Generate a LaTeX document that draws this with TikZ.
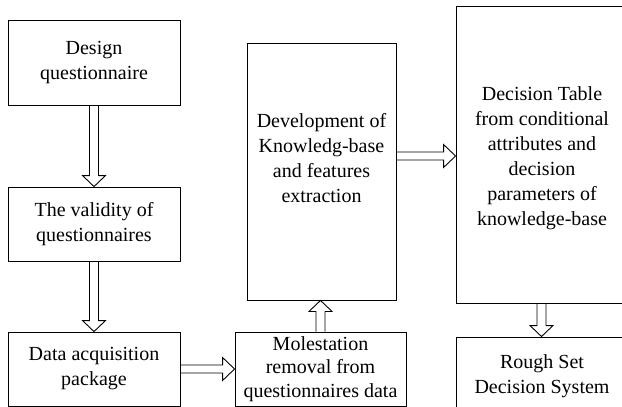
\documentclass[tikz,border=0pt]{standalone}
\usepackage{fontspec}
\setmainfont{Liberation Serif}
\usetikzlibrary{calc}
\tikzset{
  boxnode/.style={draw, line width=0.9pt, inner sep=0pt, anchor=center, align=center,
    font=\fontsize{20}{25}\selectfont},
  txtnode/.style={inner sep=0pt, anchor=center, align=center,
    font=\fontsize{20}{25}\selectfont},
  harrow/.style={draw, line width=0.9pt, line join=miter}
}
\newcommand{\hollowdown}[2]{\draw[harrow] ($(#1)+(-4.5,0)$) -- ($(#2)+(-4.5,-11)$) -- ($(#2)+(-11.5,-11)$) -- (#2) -- ($(#2)+(11.5,-11)$) -- ($(#2)+(4.5,-11)$) -- ($(#1)+(4.5,0)$);}
\newcommand{\hollowup}[2]{\draw[harrow] ($(#1)+(-4.5,0)$) -- ($(#2)+(-4.5,11)$) -- ($(#2)+(-11.5,11)$) -- (#2) -- ($(#2)+(11.5,11)$) -- ($(#2)+(4.5,11)$) -- ($(#1)+(4.5,0)$);}
\newcommand{\hollowright}[2]{\draw[harrow] ($(#1)+(0,-4)$) -- ($(#2)+(-12,-4)$) -- ($(#2)+(-12,-11.5)$) -- (#2) -- ($(#2)+(-12,11.5)$) -- ($(#2)+(-12,4)$) -- ($(#1)+(0,4)$);}
\begin{document}
\begin{tikzpicture}[x=1pt,y=-1pt]
\useasboundingbox (0,0) rectangle (622,407);
\clip (0,0) rectangle (622,407);
% boxes
\node[boxnode, minimum width=172pt, minimum height=85pt] (design) at (94,62.5) {Design\\questionnaire};
\node[boxnode, minimum width=172pt, minimum height=74pt] (valid) at (94,224) {The validity of\\questionnaires};
\node[boxnode, minimum width=172pt, minimum height=74pt] (acq) at (94,369) {Data acquisition\\package};
\node[boxnode, minimum width=171pt, minimum height=74pt, font=\fontsize{20}{23.5}\selectfont] (molest) at (320.5,369) {Molestation\\removal from\\questionnaires data};
\node[boxnode, minimum width=149pt, minimum height=257pt] (kb) at (321.5,171.5) {};
\node[txtnode] (kbtext) at (321.5,158) {Development of\\Knowledg-base\\and features\\extraction};
\node[boxnode, minimum width=172pt, minimum height=297pt] (dt) at (542,154.5) {};
\node[txtnode] (dttext) at (542,158) {Decision Table\\from conditional\\attributes and\\decision\\parameters of\\knowledge-base};
\node[boxnode, minimum width=172pt, minimum height=93pt] (rs) at (542,383.5) {};
\node[txtnode] (rstext) at (542,376.5) {Rough Set\\Decision System};
% connectors
\hollowdown{design.south}{valid.north}
\hollowdown{valid.south}{acq.north}
\hollowright{acq.east}{molest.west}
\coordinate (kbin) at (molest.north |- kb.south);
\hollowup{molest.north}{kbin}
\coordinate (kbout) at ($(kb.east)+(0,-15.5)$);
\coordinate (dtin) at (dt.west |- kbout);
\hollowright{kbout}{dtin}
\coordinate (rsin) at ($(rs.north)+(-0.5,0)$);
\coordinate (dtout) at (rsin |- dt.south);
\hollowdown{dtout}{rsin}
\end{tikzpicture}
\end{document}
